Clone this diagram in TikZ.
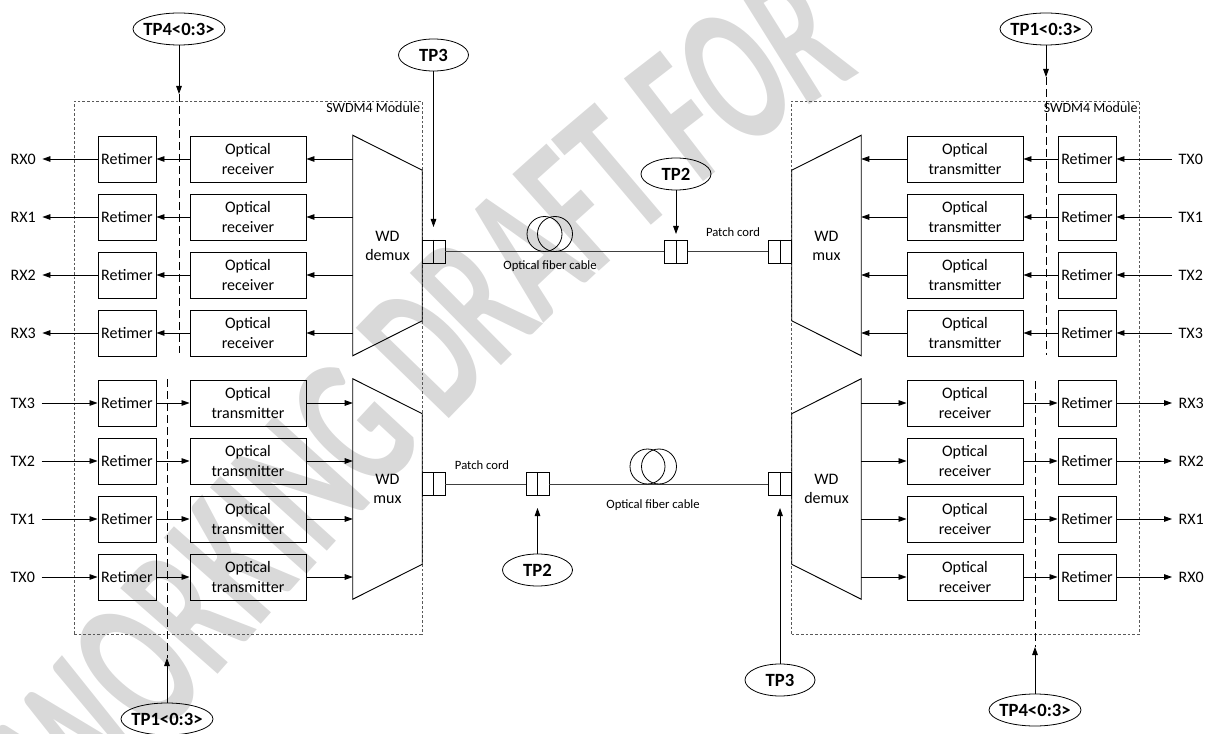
\documentclass[tikz,border=0pt]{standalone}
\usepackage{fontspec}
\setmainfont{Carlito}
\newfontfamily\wmfont[FakeStretch=0.6]{Carlito}
\usetikzlibrary{arrows.meta,calc,shapes.geometric,decorations.text}

\begin{document}
\begin{tikzpicture}[x=0.75pt, y=-0.75pt,
  every node/.style={font=\fontsize{12}{14.3}\selectfont},
  retimer/.style={draw, line width=0.7pt, minimum width=43.5pt, minimum height=34.5pt, inner sep=0.5pt},
  ottico/.style={draw, line width=0.7pt, minimum width=87pt, minimum height=34.5pt, inner sep=1pt, align=center},
  trap/.style={minimum width=51.75pt, minimum height=165pt, inner sep=0pt, align=center},
  modulo/.style={draw=black!65, dash pattern=on 2pt off 1.5pt, line width=0.6pt, minimum width=261pt, minimum height=399.75pt},
  etichetta/.style={font=\fontsize{10.5}{12}\selectfont, inner sep=1.5pt},
  piccolo/.style={font=\fontsize{9.5}{11}\selectfont, inner sep=0pt},
  porta/.style={inner sep=0pt, outer sep=5pt},
  tp/.style={draw, ellipse, line width=0.6pt, font=\fontsize{14}{16}\selectfont\bfseries, minimum width=52.5pt, minimum height=24pt, inner sep=0pt},
  tplungo/.style={tp, minimum width=69pt, inner xsep=-5pt},
  conn/.style={draw, line width=0.6pt, minimum width=17.25pt, minimum height=17.25pt, inner sep=0pt,
    path picture={\draw[line width=0.6pt] (path picture bounding box.north) -- (path picture bounding box.south);}},
  bobina/.style={draw, circle, line width=0.6pt, minimum size=26.25pt, inner sep=0pt},
  freccia/.style={-{Triangle[length=6pt,width=4.2pt]}, line width=0.6pt},
  tratteggio/.style={dash pattern=on 6pt off 3pt, line width=0.6pt},
  fibra/.style={line width=0.6pt, draw=black!75}
]

% Colori
\definecolor{wmGray}{HTML}{D9D9D9}

\useasboundingbox (0,0) rectangle (1214,734);

% Filigrana
\begin{scope}
\clip (0,0) rectangle (1214,734);
\path[decorate, decoration={text along path, text align=left, raise=-48pt, text color=wmGray,
  text={|\wmfont\bfseries\fontsize{150}{150}\selectfont|WORKING DRAFT FOR}}]
  (40,780) .. controls (340,440) and (600,120) .. (920,-30);
\end{scope}

% Moduli SWDM4
\node[modulo] (modL) at (248,367.5) {};
\node[modulo] (modR) at (965.5,367.5) {};
\node[etichetta, anchor=north east] (lblModL) at (modL.north east) {SWDM4 Module};
\node[etichetta, anchor=north east] (lblModR) at (modR.north east) {SWDM4 Module};

% Mux e demux
\node[trap] (dmxL) at (387.5,245.5) {WD\\demux};
\draw[line width=0.7pt] (dmxL.north west) -- ($(dmxL.north east)+(0,35)$) -- ($(dmxL.south east)+(0,-35)$) -- (dmxL.south west) -- cycle;
\node[trap] (muxL) at (387.5,489) {WD\\mux};
\draw[line width=0.7pt] (muxL.north west) -- ($(muxL.north east)+(0,35)$) -- ($(muxL.south east)+(0,-35)$) -- (muxL.south west) -- cycle;
\node[trap] (muxR) at (826.5,245.5) {WD\\mux};
\draw[line width=0.7pt] ($(muxR.north west)+(0,35)$) -- (muxR.north east) -- (muxR.south east) -- ($(muxR.south west)+(0,-35)$) -- cycle;
\node[trap] (dmxR) at (826.5,489) {WD\\demux};
\draw[line width=0.7pt] ($(dmxR.north west)+(0,35)$) -- (dmxR.north east) -- (dmxR.south east) -- ($(dmxR.south west)+(0,-35)$) -- cycle;

% Modulo sinistro: ricezione
\foreach \i/\y in {0/159,1/217,2/275,3/333}{
  \node[retimer] (retRxL\i) at (127,\y) {Retimer};
  \node[ottico] (rxL\i) at (248,\y) {Optical\\receiver};
  \node[porta, anchor=west] (outRxL\i) at (4,\y) {RX\i};
  \draw[freccia] (dmxL.west |- rxL\i) -- (rxL\i);
  \draw[freccia] (rxL\i) -- (retRxL\i);
  \draw[freccia] (retRxL\i) -- (outRxL\i);
}

% Modulo sinistro: trasmissione
\foreach \i/\y in {3/403,2/461,1/519,0/577}{
  \node[retimer] (retTxL\i) at (127,\y) {Retimer};
  \node[ottico] (txL\i) at (248,\y) {Optical\\transmitter};
  \node[porta, anchor=west] (inTxL\i) at (4,\y) {TX\i};
  \draw[freccia] (inTxL\i) -- (retTxL\i);
  \draw[freccia] (retTxL\i) -- (txL\i);
  \draw[freccia] (txL\i) -- (muxL.west |- txL\i);
}

% Modulo destro: trasmissione
\foreach \i/\y in {0/159,1/217,2/275,3/333}{
  \node[retimer] (retTxR\i) at (1087,\y) {Retimer};
  \node[ottico] (txR\i) at (965,\y) {Optical\\transmitter};
  \node[porta, anchor=west] (inTxR\i) at (1172,\y) {TX\i};
  \draw[freccia] (inTxR\i) -- (retTxR\i);
  \draw[freccia] (retTxR\i) -- (txR\i);
  \draw[freccia] (txR\i) -- (muxR.east |- txR\i);
}

% Modulo destro: ricezione
\foreach \i/\y in {3/403,2/461,1/519,0/577}{
  \node[retimer] (retRxR\i) at (1087,\y) {Retimer};
  \node[ottico] (rxR\i) at (965,\y) {Optical\\receiver};
  \node[porta, anchor=west] (outRxR\i) at (1172,\y) {RX\i};
  \draw[freccia] (dmxR.east |- rxR\i) -- (rxR\i);
  \draw[freccia] (rxR\i) -- (retRxR\i);
  \draw[freccia] (retRxR\i) -- (outRxR\i);
}

% Connettori e fibre
\node[conn] (conL1) at (433.5,251.5) {};
\node[conn] (conM1) at (676,251.5) {};
\node[conn] (conR1) at (780,251.5) {};
\node[conn] (conL2) at (433.5,484) {};
\node[conn] (conM2) at (537.5,484) {};
\node[conn] (conR2) at (780,484) {};
\draw[fibra] (conL1) -- (conM1);
\draw[fibra] (conM1) -- (conR1);
\draw[fibra] (conL2) -- (conM2);
\draw[fibra] (conM2) -- (conR2);

\node[bobina] (coilA1) at (544.5,234) {};
\node[bobina] (coilA2) at (555,234) {};
\node[bobina] (coilB1) at (647.5,466.5) {};
\node[bobina] (coilB2) at (659,466.5) {};

\node[piccolo] (cavoA) at (550,266) {Optical fiber cable};
\node[piccolo] (patchA) at (733,232) {Patch cord};
\node[piccolo] (cavoB) at (653,505) {Optical fiber cable};
\node[piccolo] (patchB) at (482,465) {Patch cord};

% Punti di test
\node[tplungo] (tp4A) at (179,29) {TP4<0:3>};
\coordinate (tp4Aend) at (179,94);
\coordinate (tp4Afine) at (179,353);
\draw[freccia] (tp4A) -- (tp4Aend);
\draw[tratteggio] (tp4Aend) -- (tp4Afine);

\node[tplungo] (tp1A) at (1046,29) {TP1<0:3>};
\coordinate (tp1Aend) at (1046,77);
\coordinate (tp1Afine) at (1046,355);
\draw[freccia] (tp1A) -- (tp1Aend);
\draw[tratteggio] (tp1Aend) -- (tp1Afine);

\node[tplungo] (tp1B) at (167,719) {TP1<0:3>};
\coordinate (tp1Bend) at (167,658);
\coordinate (tp1Binizio) at (167,379);
\draw[freccia] (tp1B) -- (tp1Bend);
\draw[tratteggio] (tp1Binizio) -- (tp1Bend);

\node[tplungo] (tp4B) at (1035,710) {TP4<0:3>};
\coordinate (tp4Bend) at (1035,647);
\coordinate (tp4Binizio) at (1035,381);
\draw[freccia] (tp4B) -- (tp4Bend);
\draw[tratteggio] (tp4Binizio) -- (tp4Bend);

\node[tp] (tp3A) at (433.5,55) {TP3};
\coordinate (tp3Aend) at (433.5,227);
\draw[freccia] (tp3A) -- (tp3Aend);

\node[tp] (tp2A) at (676,174) {TP2};
\coordinate (tp2Aend) at (676,234);
\draw[freccia] (tp2A) -- (tp2Aend);

\node[tp] (tp2B) at (537.5,570) {TP2};
\coordinate (tp2Bend) at (537.5,508);
\draw[freccia] (tp2B) -- (tp2Bend);

\node[tp] (tp3B) at (780,680) {TP3};
\coordinate (tp3Bend) at (780,508);
\draw[freccia] (tp3B) -- (tp3Bend);

\end{tikzpicture}
\end{document}
